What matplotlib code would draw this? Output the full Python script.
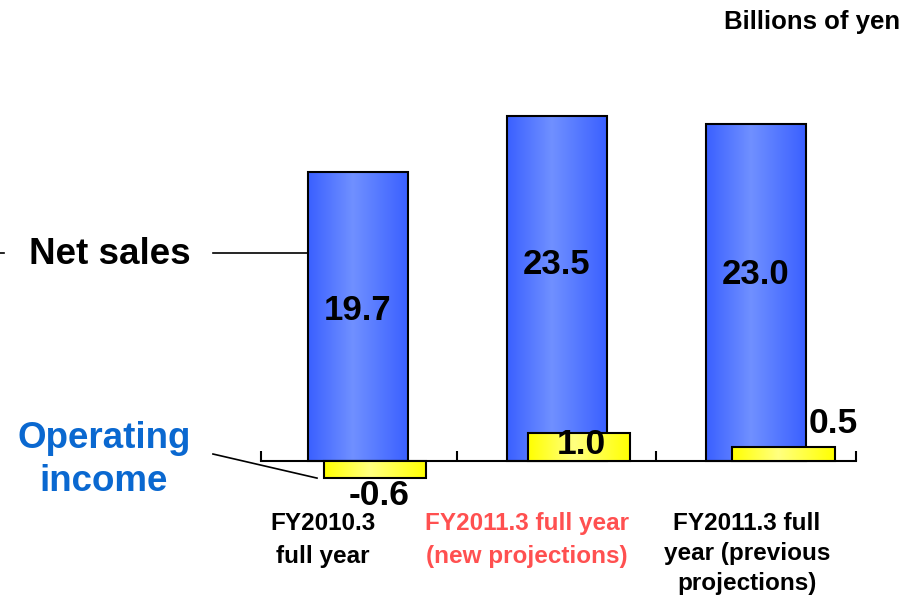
import numpy as np
import matplotlib

matplotlib.use("Agg")
import matplotlib.pyplot as plt
from matplotlib.colors import LinearSegmentedColormap

plt.rcParams["font.family"] = ["Liberation Sans", "DejaVu Sans"]
plt.rcParams["font.weight"] = "bold"

categories = ["FY2010.3\nfull year",
              "FY2011.3 full year\n(new projections)",
              "FY2011.3 full\nyear (previous\nprojections)"]
net_sales = [19.7, 23.5, 23.0]
operating_income = [-0.6, 1.0, 0.5]
category_colors = ["black", "#FF5050", "black"]

FIG_W, FIG_H = 916, 596


def px(x, y):
    # figure pixel (from top-left) -> figure fraction
    return x / FIG_W, 1 - y / FIG_H


def gradient_fill(ax, bars, cmap, zorder):
    grad = np.linspace(0, 1, 256).reshape(1, -1)
    for b in bars:
        x0, y0 = b.get_xy()
        w, h = b.get_width(), b.get_height()
        im = ax.imshow(grad, extent=[x0, x0 + w, y0, y0 + h], aspect="auto",
                       cmap=cmap, origin="lower", zorder=zorder, interpolation="bilinear")
        im.set_clip_path(b)


blue_cmap = LinearSegmentedColormap.from_list(
    "sales", [(0, "#3A60FF"), (0.45, "#7090FF"), (1, "#3A60FF")])
yellow_cmap = LinearSegmentedColormap.from_list(
    "income", [(0, "#FFFF00"), (0.45, "#FFFF80"), (1, "#FFFF00")])

fig = plt.figure(figsize=(FIG_W / 100, FIG_H / 100), dpi=100)

# axes span: x 261..856 px, y 100..490 px; zero line sits at y = 461 px
left, bottom = px(261, 490)
rect = [left, bottom, 595 / FIG_W, 390 / FIG_H]
sales_ppu = 14.67   # pixels per billion yen, net sales
income_ppu = 28.5   # pixels per billion yen, operating income
sales_xlim = (-0.487, 2.503)
income_xlim = (-0.556, 2.355)

x = np.arange(len(categories))

# --- net sales (primary axes) ---
ax = fig.add_axes(rect)
sales_bars = ax.bar(x, net_sales, width=0.5, facecolor="none",
                    edgecolor="black", linewidth=1.5, zorder=3)
gradient_fill(ax, sales_bars, blue_cmap, 2)
ax.set_xlim(*sales_xlim)
ax.set_ylim(-29 / sales_ppu, 361 / sales_ppu)

for s in ["left", "right", "top"]:
    ax.spines[s].set_visible(False)
ax.spines["bottom"].set_position(("data", 0))
ax.spines["bottom"].set_linewidth(1.5)
ax.set_xticks([sales_xlim[0], 0.5, 1.5, sales_xlim[1]])
ax.set_yticks([])
ax.tick_params(axis="x", direction="in", length=7.5, width=1.5, labelbottom=False)

sales_label_dy = [-100, -107, -109]
for i, v in enumerate(net_sales):
    ax.annotate(f"{v:.1f}", xy=(x[i], v), xytext=(0, sales_label_dy[i]),
                textcoords="offset points", ha="center", va="center",
                fontsize=25, fontweight="bold", zorder=5)

# --- operating income (overlaid axes, own scale) ---
ax2 = fig.add_axes(rect)
ax2.patch.set_visible(False)
income_bars = ax2.bar(x, operating_income, width=0.5, facecolor="none",
                      edgecolor="black", linewidth=1.5, zorder=3, clip_on=False)
gradient_fill(ax2, income_bars, yellow_cmap, 2)
ax2.set_xlim(*income_xlim)
ax2.set_ylim(-29 / income_ppu, 361 / income_ppu)
ax2.axis("off")

income_label_off = [(3.5, -12.5), (2, -8.6), (35.6, 17)]
for i, v in enumerate(operating_income):
    ax2.annotate(f"{v:.1f}", xy=(x[i], v), xytext=income_label_off[i],
                 textcoords="offset points", ha="center", va="center",
                 fontsize=25.5, fontweight="bold", zorder=5, annotation_clip=False)

# category labels under the axis
cat_off = [(-25, -57), (-21.5, -57), (-6.5, -66.5)]
cat_spacing = [1.52, 1.52, 1.4]
for i, lab in enumerate(categories):
    ax.annotate(lab, xy=(x[i], 0), xytext=cat_off[i], textcoords="offset points",
                ha="center", va="center", fontsize=17.5, fontweight="bold",
                color=category_colors[i], linespacing=cat_spacing[i],
                annotation_clip=False)

# series call-outs on the left
fig.text(*px(110, 255), "Net sales", ha="center", va="center",
         fontsize=26.5, fontweight="bold")
ax.plot([-0.728, sales_bars[0].get_x()], [14.2, 14.2], color="black",
        linewidth=1.2, clip_on=False)
ax.plot([-1.80, -1.78], [14.2, 14.2], color="black", linewidth=1.2, clip_on=False)

fig.text(*px(104, 460), "Operating\nincome", ha="center", va="center",
         fontsize=26.5, fontweight="bold", color="#0A68D0", linespacing=1.32)
ax2.plot([-0.791, income_bars[0].get_x() - 0.032], [0.245, operating_income[0]],
         color="black", linewidth=1.2, clip_on=False)

fig.text(*px(900, 22), "Billions of yen", ha="right", va="center",
         fontsize=18.5, fontweight="bold")

fig.savefig("out.png", dpi=100)
